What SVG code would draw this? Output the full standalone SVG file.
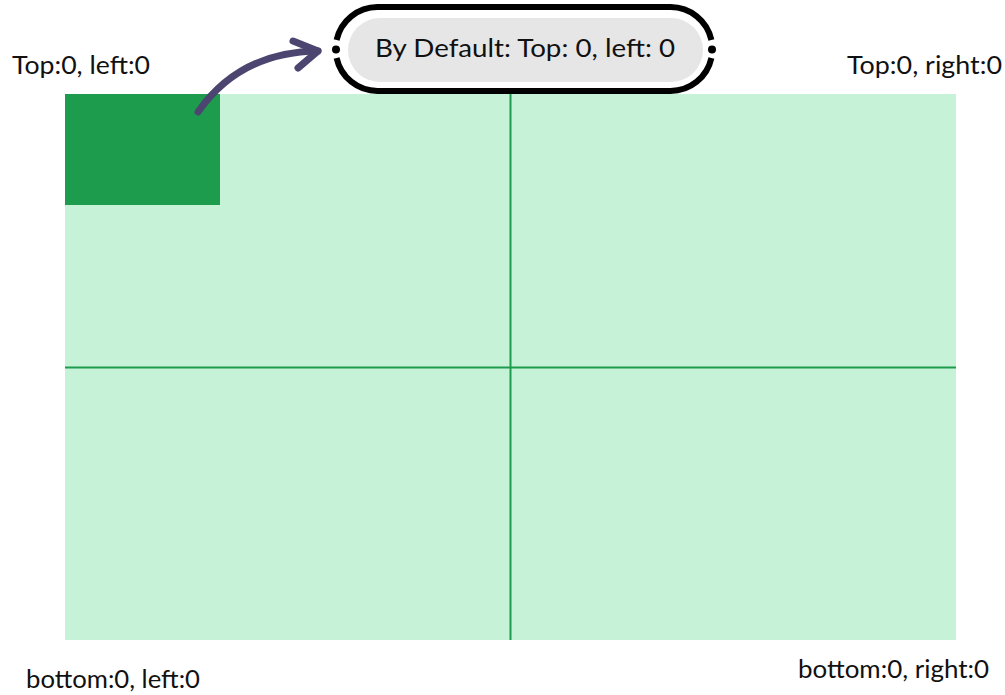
<svg xmlns="http://www.w3.org/2000/svg" width="1005" height="695" viewBox="0 0 1005 695">
<style>
.lbl{font-family:Lato,"Noto Sans","Liberation Sans",sans-serif;font-size:25px;font-weight:400;fill:#111;}
.grid{stroke:#1e9c4e;stroke-width:2;fill:none;}
.arrow{stroke:#4b456f;stroke-width:7;fill:none;stroke-linecap:round;stroke-linejoin:round;}
.ring{stroke:#000;stroke-width:6;fill:none;}
</style>
<rect width="1005" height="695" fill="#ffffff"/>
<g id="container">
<rect x="65" y="94" width="891" height="546" fill="#c6f2d8"/>
<line class="grid" x1="510.5" y1="94" x2="510.5" y2="640"/>
<line class="grid" x1="65" y1="367.5" x2="956" y2="367.5"/>
</g>
<g id="box">
<rect x="65" y="94" width="155" height="111" fill="#1e9c4e"/>
</g>
<g id="callout">
<path class="ring" d="M336.6 40 A42 42 0 0 1 377.5 7 L670.5 7 A42 42 0 0 1 711.4 40"/>
<path class="ring" d="M336.6 58 A42 42 0 0 0 377.5 91 L670.5 91 A42 42 0 0 0 711.4 58"/>
<circle cx="336" cy="49.5" r="4" fill="#000"/>
<circle cx="712" cy="49.5" r="4" fill="#000"/>
<rect x="348" y="18" width="355" height="64" rx="32" fill="#e6e6e6"/>
<text class="lbl" x="375" y="57" font-size="23" textLength="300" lengthAdjust="spacingAndGlyphs">By Default: Top: 0, left: 0</text>
</g>
<g id="connectors">
<path class="arrow" d="M198 112 Q240 52 318 51"/>
<polyline class="arrow" points="293,41 318,51 298,68"/>
</g>
<g id="labels">
<text class="lbl" x="12" y="74" textLength="138" lengthAdjust="spacingAndGlyphs">Top:0, left:0</text>
<text class="lbl" x="847" y="74" textLength="155" lengthAdjust="spacingAndGlyphs">Top:0, right:0</text>
<text class="lbl" x="26" y="688" textLength="174" lengthAdjust="spacingAndGlyphs">bottom:0, left:0</text>
<text class="lbl" x="798" y="678" textLength="191" lengthAdjust="spacingAndGlyphs">bottom:0, right:0</text>
</g>
</svg>
